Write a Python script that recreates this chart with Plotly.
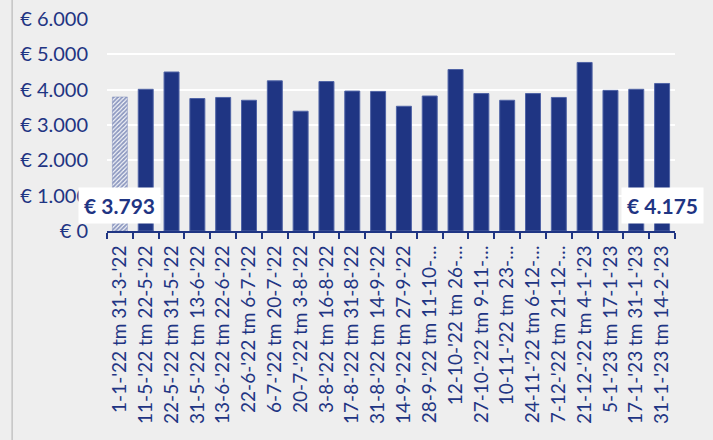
import plotly.graph_objects as go

categories = [
    "1-1-'22 tm 31-3-'22",
    "11-5-'22 tm 22-5-'22",
    "22-5-'22 tm 31-5-'22",
    "31-5-'22 tm 13-6-'22",
    "13-6-'22 tm 22-6-'22",
    "22-6-'22 tm 6-7-'22",
    "6-7-'22 tm 20-7-'22",
    "20-7-'22 tm 3-8-'22",
    "3-8-'22 tm 16-8-'22",
    "17-8-'22 tm 31-8-'22",
    "31-8-'22 tm 14-9-'22",
    "14-9-'22 tm 27-9-'22",
    "28-9-'22 tm 11-10-…",
    "12-10-'22 tm 26-…",
    "27-10-'22 tm 9-11-…",
    "10-11-'22 tm 23-…",
    "24-11-'22 tm 6-12-…",
    "7-12-'22 tm 21-12-…",
    "21-12-'22 tm 4-1-'23",
    "5-1-'23 tm 17-1-'23",
    "17-1-'23 tm 31-1-'23",
    "31-1-'23 tm 14-2-'23",
]

values = [3793, 4010, 4500, 3750, 3780, 3700, 4250, 3390, 4230, 3960, 3950,
          3530, 3820, 4570, 3890, 3700, 3890, 3780, 4770, 3980, 4010, 4175]

y_tickvals = [0, 1000, 2000, 3000, 4000, 5000, 6000]
y_ticktext = ["€ 0", "€ 1.000", "€ 2.000", "€ 3.000", "€ 4.000", "€ 5.000", "€ 6.000"]

BLUE = "#1f3583"
BG = "#eeeeee"
FONT = "Lato"


def euro(v):
    return "€ " + f"{v:,}".replace(",", ".")


fig = go.Figure()

fig.add_trace(go.Bar(
    x=categories[:1], y=values[:1],
    marker=dict(color="white", line=dict(color="#7f8dbd", width=0.5),
                pattern=dict(shape="/", fgcolor=BLUE, bgcolor="white",
                             size=3, solidity=0.65)),
    showlegend=False,
))
fig.add_trace(go.Bar(
    x=categories[1:], y=values[1:],
    marker=dict(color=BLUE, line=dict(color="#5064a6", width=1)),
    showlegend=False,
))

for idx in (0, len(values) - 1):
    fig.add_annotation(
        x=categories[idx], y=0.118, xref="x", yref="paper",
        xanchor="center", yanchor="middle",
        text="<b>" + euro(values[idx]) + "</b>",
        showarrow=False, bgcolor="white", borderpad=5,
        font=dict(family=FONT, size=21, color=BLUE),
    )

fig.add_shape(type="line", xref="paper", yref="paper",
              x0=-0.167, x1=-0.167, y0=-1.2, y1=1.2,
              line=dict(color="#c4c4c4", width=1.5))

fig.update_layout(
    width=713, height=440,
    margin=dict(l=107, r=38, t=19, b=209),
    paper_bgcolor=BG, plot_bgcolor=BG,
    barmode="overlay", bargap=0.42,
    font=dict(family=FONT, color=BLUE),
    xaxis=dict(
        type="category", tickangle=-90, tickson="boundaries",
        range=[-0.5, len(categories) - 0.5],
        tickmode="array", tickvals=categories, ticktext=categories,
        ticks="outside", ticklen=6, tickcolor=BLUE, tickwidth=1.5,
        ticklabelstandoff=5,
        showline=True, linecolor=BLUE, linewidth=2,
        showgrid=False, automargin=False,
        tickfont=dict(family=FONT, size=19, color=BLUE),
    ),
    yaxis=dict(
        range=[0, 6000], tickvals=y_tickvals, ticktext=y_ticktext,
        showgrid=True, gridcolor="white", gridwidth=2,
        zeroline=False, showline=False, automargin=False,
        ticks="", ticklabelstandoff=18,
        tickfont=dict(family=FONT, size=20, color=BLUE),
    ),
)

fig.write_html("out.html", config={"displayModeBar": False},
               post_script="document.body.style.margin='0';document.body.style.overflow='hidden';")
